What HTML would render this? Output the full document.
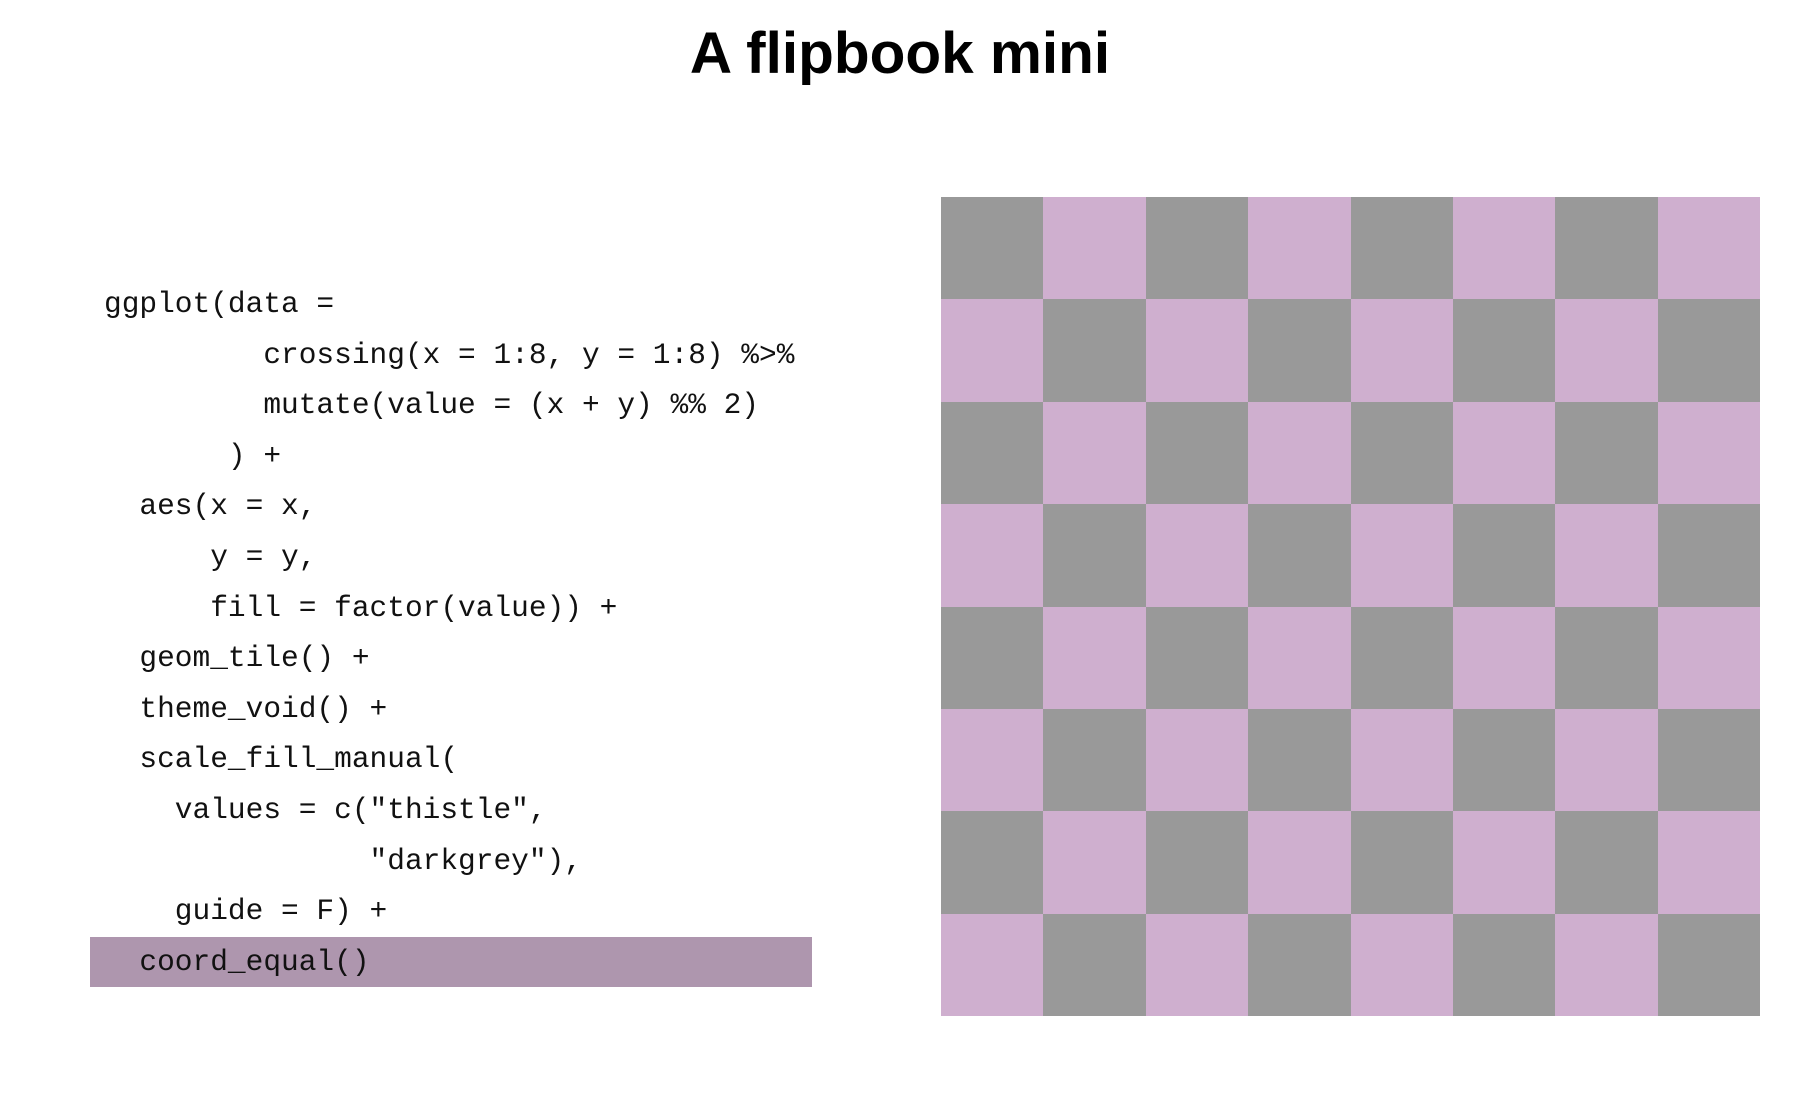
<!DOCTYPE html>
<html><head><meta charset="utf-8"><style>
body{margin:0;width:1800px;height:1113px;background:#fff;position:relative;overflow:hidden}
h1{position:absolute;left:0;width:1800px;top:20px;margin:0;text-align:center;font:bold 58.5px "Liberation Sans",sans-serif;color:#000}
#code{position:absolute;left:90px;top:279px;width:722px;font:29.5px/50.6px "Liberation Mono",monospace;color:#111;white-space:pre}
#code div{padding-left:14px;height:50.6px}
#code .hl{background:#ae96ae}
#grid{position:absolute;left:941px;top:197px;width:819px;height:819px;display:grid;grid-template-columns:repeat(8,1fr);grid-template-rows:repeat(8,1fr)}
.g{background:#999999}.t{background:#cfafcf}
</style></head><body>
<h1>A flipbook mini</h1>
<div id="code"><div>ggplot(data =</div><div>         crossing(x = 1:8, y = 1:8) %&gt;%</div><div>         mutate(value = (x + y) %% 2)</div><div>       ) +</div><div>  aes(x = x,</div><div>      y = y,</div><div>      fill = factor(value)) +</div><div>  geom_tile() +</div><div>  theme_void() +</div><div>  scale_fill_manual(</div><div>    values = c("thistle",</div><div>               "darkgrey"),</div><div>    guide = F) +</div><div class="hl">  coord_equal()</div></div>
<div id="grid">
<script>
for(let r=0;r<8;r++)for(let c=0;c<8;c++)document.write('<div class="'+((r+c)%2?'t':'g')+'"></div>');
</script>
</div>
</body></html>
